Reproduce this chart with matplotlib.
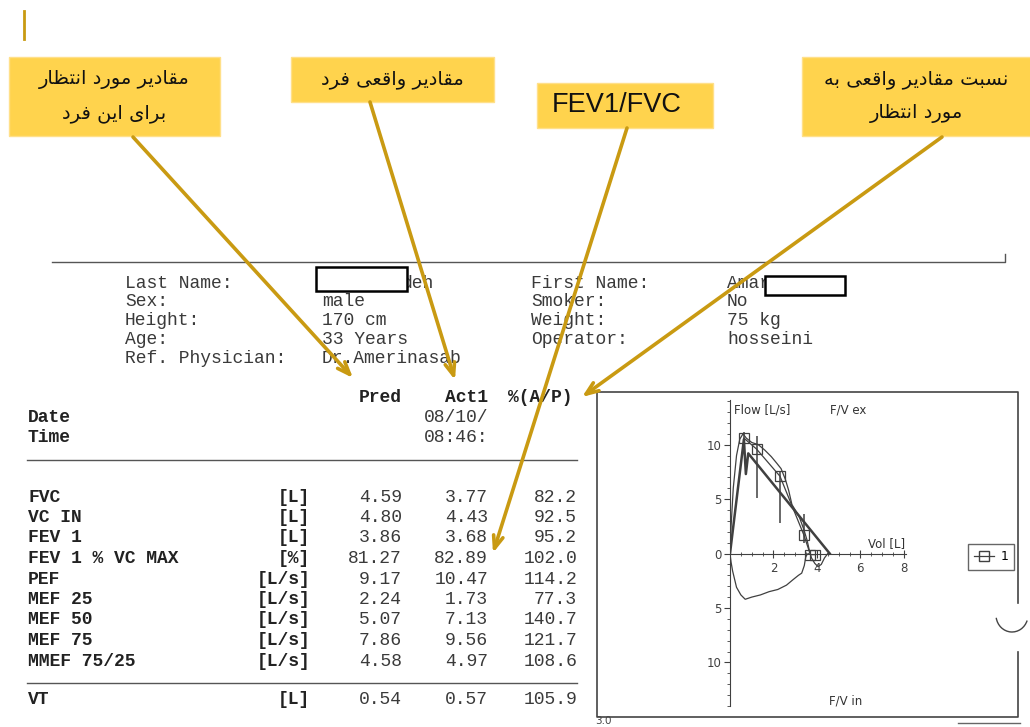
import matplotlib
matplotlib.use('Agg')
import matplotlib.pyplot as plt
from matplotlib.patches import Rectangle, Arc
from matplotlib.lines import Line2D
from matplotlib.ticker import FixedLocator, MultipleLocator, FuncFormatter

# ---- данные ----
params = ['FVC', 'VC IN', 'FEV 1', 'FEV 1 % VC MAX', 'PEF', 'MEF 25', 'MEF 50', 'MEF 75', 'MMEF 75/25']
units = ['[L]', '[L]', '[L]', '[%]', '[L/s]', '[L/s]', '[L/s]', '[L/s]', '[L/s]']
pred = [4.59, 4.80, 3.86, 81.27, 9.17, 2.24, 5.07, 7.86, 4.58]
act = [3.77, 4.43, 3.68, 82.89, 10.47, 1.73, 7.13, 9.56, 4.97]
pct = [82.2, 92.5, 95.2, 102.0, 114.2, 77.3, 140.7, 121.7, 108.6]
vt_row = ['VT', '[L]', 0.54, 0.57, 105.9]

info_left = [('Last Name:', 'deh'), ('Sex:', 'male'), ('Height:', '170 cm'),
             ('Age:', '33 Years'), ('Ref. Physician:', 'Dr.Amerinasab')]
info_right = [('First Name:', 'Amar'), ('Smoker:', 'No'), ('Weight:', '75 kg'),
              ('Operator:', 'hosseini')]

# кривая поток-объём
exp_vol = [0, 0.05, 0.15, 0.3, 0.45, 0.6, 0.75, 1.0, 1.3, 1.6, 1.9, 2.15, 2.35, 2.55,
           2.7, 2.85, 3.0, 3.2, 3.4, 3.55, 3.65, 3.75, 3.9, 4.05, 4.2, 4.35, 4.5]
exp_flow = [0, 2.5, 6.0, 9.0, 10.5, 11.0, 10.6, 10.2, 10.0, 9.5, 8.9, 8.3, 7.8, 6.8,
            5.8, 4.5, 4.0, 3.3, 2.2, 1.2, 0.3, -0.4, -0.9, -1.2, -1.0, -0.4, 0]
insp_vol = [0, 0.05, 0.12, 0.3, 0.5, 0.7, 1.0, 1.4, 1.8, 2.2, 2.6, 2.9, 3.15, 3.3,
            3.42, 3.47, 3.5, 3.6]
insp_flow = [0, -0.8, -1.6, -3.1, -3.8, -4.2, -4.0, -3.8, -3.5, -3.3, -2.9, -2.4,
             -2.0, -1.8, -1.1, -0.5, -0.2, 0]
pred_vol = [0, 0.64, 0.73, 0.84, 4.59]
pred_flow = [0, 10.5, 7.3, 9.2, 0]
mk_vol = [0.64, 1.22, 2.3, 3.4, 3.7, 3.9]
mk_flow = [10.6, 9.6, 7.1, 1.7, -0.1, -0.1]
err_lo = [10.0, 5.1, 2.8, 1.0, -0.1, -0.1]
err_hi = [11.2, 10.8, 7.6, 3.6, -0.1, -0.1]

callouts = ['مقادیر مورد انتظار\nبرای این فرد', 'مقادیر واقعی فرد', 'FEV1/FVC',
            'نسبت مقادیر واقعی به\nمورد انتظار']

# ---- простое арабское/персидское соединение букв ----
FORMS = {
    'ا': ('\uFE8D', '\uFE8E', None, None),
    'ب': ('\uFE8F', '\uFE90', '\uFE91', '\uFE92'),
    'ت': ('\uFE95', '\uFE96', '\uFE97', '\uFE98'),
    'د': ('\uFEA9', '\uFEAA', None, None),
    'ر': ('\uFEAD', '\uFEAE', None, None),
    'س': ('\uFEB1', '\uFEB2', '\uFEB3', '\uFEB4'),
    'ظ': ('\uFEC5', '\uFEC6', '\uFEC7', '\uFEC8'),
    'ع': ('\uFEC9', '\uFECA', '\uFECB', '\uFECC'),
    'ف': ('\uFED1', '\uFED2', '\uFED3', '\uFED4'),
    'ق': ('\uFED5', '\uFED6', '\uFED7', '\uFED8'),
    'م': ('\uFEE1', '\uFEE2', '\uFEE3', '\uFEE4'),
    'ن': ('\uFEE5', '\uFEE6', '\uFEE7', '\uFEE8'),
    'ه': ('\uFEE9', '\uFEEA', '\uFEEB', '\uFEEC'),
    'و': ('\uFEED', '\uFEEE', None, None),
    '\u06CC': ('\uFEEF', '\uFEF0', '\uFEF3', '\uFEF4'),
    '\u064A': ('\uFEEF', '\uFEF0', '\uFEF3', '\uFEF4'),
}


def shape_line(text):
    out = []
    for i, ch in enumerate(text):
        f = FORMS.get(ch)
        if f is None:
            out.append(ch)
            continue
        prev = text[i - 1] if i > 0 else ''
        nxt = text[i + 1] if i + 1 < len(text) else ''
        pj = prev in FORMS and FORMS[prev][2] is not None
        nj = f[2] is not None and nxt in FORMS
        if pj and nj:
            out.append(f[3])
        elif pj:
            out.append(f[1])
        elif nj:
            out.append(f[2])
        else:
            out.append(f[0])
    return ''.join(reversed(out))


def shape(text):
    return '\n'.join(shape_line(s) for s in text.split('\n'))


# ---- фигура ----
fig = plt.figure(figsize=(10.3, 7.27), dpi=100)
fig.patch.set_facecolor('white')
page = fig.add_axes([0, 0, 1, 1])
page.set_xlim(0, 1030)
page.set_ylim(727, 0)
page.axis('off')

gold = '#C99A12'
yellow = '#FFD34D'
ink = '#3a3a3a'
mono = 'Liberation Mono'

# жёлтая черта слева вверху
page.plot([24, 24], [11, 39], color=gold, lw=2)

# выноски
boxes = [(9, 57, 211, 79), (291, 57, 203, 45), (537, 83, 176, 45), (802, 57, 240, 79)]
tips = [(353, 378), (455, 380), (493, 553), (582, 397)]
starts = [(133, 137), (370, 102), (627, 128), (942, 137)]
for (x, y, w, h), txt, tip, st in zip(boxes, callouts, tips, starts):
    page.add_patch(Rectangle((x, y), w, h, facecolor=yellow, edgecolor='#FFE08A', lw=1, zorder=3))
    if txt.isascii():
        page.text(x + w / 2 - 8, y + h / 2, txt, ha='center', va='center', fontsize=19.5,
                  family='Liberation Sans', color='#111', zorder=4)
    else:
        cx = x + min(w, 228) / 2
        page.text(cx, y + h / 2, shape(txt), ha='center', va='center', fontsize=14,
                  family='DejaVu Sans', color='#111', linespacing=1.9, zorder=4)
    page.annotate('', xy=tip, xytext=st,
                  arrowprops=dict(arrowstyle='->,head_length=0.9,head_width=0.35',
                                  color=gold, lw=2.6, shrinkA=0, shrinkB=0), zorder=5)

# шапка отчёта
page.plot([52, 1005, 1005], [262, 262, 254], color='#555', lw=1)
row_h = 18.8
for i, (lab, val) in enumerate(info_left):
    y = 283 + i * row_h
    page.text(125, y, lab, family=mono, fontsize=13, color=ink, va='center')
    page.text(402 if i == 0 else 322, y, val, family=mono, fontsize=13, color=ink, va='center')
for i, (lab, val) in enumerate(info_right):
    y = 283 + i * row_h
    page.text(531, y, lab, family=mono, fontsize=13, color=ink, va='center')
    page.text(727, y, val, family=mono, fontsize=13, color=ink, va='center')
page.add_patch(Rectangle((316, 267), 91, 24, facecolor='white', edgecolor='black', lw=1.8, zorder=3))
page.add_patch(Rectangle((765, 276), 80, 19, facecolor='white', edgecolor='black', lw=1.8, zorder=3))

# заголовок таблицы
col_unit, col_pred, col_act, col_pct = 310, 402, 488, 577
for txt, xr in [('Pred', col_pred), ('Act1', col_act), ('%(A/P)', col_pct - 4)]:
    page.text(xr, 397, txt, family=mono, fontsize=13, weight='bold', color='#222', ha='right', va='center')
page.text(28, 418, 'Date', family=mono, fontsize=13, weight='bold', color='#222', va='center')
page.text(28, 438, 'Time', family=mono, fontsize=13, weight='bold', color='#222', va='center')
page.text(col_act, 418, '08/10/', family=mono, fontsize=13, color=ink, ha='right', va='center')
page.text(col_act, 438, '08:46:', family=mono, fontsize=13, color=ink, ha='right', va='center')
page.plot([27, 577], [460, 460], color='#555', lw=1)
page.plot([27, 577], [683, 683], color='#555', lw=1)

tab_h = 20.5
for i, (p, u, a, b, c) in enumerate(zip(params, units, pred, act, pct)):
    y = 497 + i * tab_h
    page.text(28, y, p, family=mono, fontsize=13, weight='bold', color='#222', va='center')
    page.text(col_unit, y, u, family=mono, fontsize=13, weight='bold', color='#222', ha='right', va='center')
    page.text(col_pred, y, f'{a:.2f}', family=mono, fontsize=13, color=ink, ha='right', va='center')
    page.text(col_act, y, f'{b:.2f}', family=mono, fontsize=13, color=ink, ha='right', va='center')
    page.text(col_pct, y, f'{c:.1f}', family=mono, fontsize=13, color=ink, ha='right', va='center')
p, u, a, b, c = vt_row
page.text(28, 700, p, family=mono, fontsize=13, weight='bold', color='#222', va='center')
page.text(col_unit, 700, u, family=mono, fontsize=13, weight='bold', color='#222', ha='right', va='center')
page.text(col_pred, 700, f'{a:.2f}', family=mono, fontsize=13, color=ink, ha='right', va='center')
page.text(col_act, 700, f'{b:.2f}', family=mono, fontsize=13, color=ink, ha='right', va='center')
page.text(col_pct, 700, f'{c:.1f}', family=mono, fontsize=13, color=ink, ha='right', va='center')

# рамка графика
page.plot([1018, 1018, 597, 597, 1018, 1018], [603, 392, 392, 717, 717, 652], color='#444', lw=1.2)
page.add_patch(Arc((1012, 615), 32, 34, theta1=20, theta2=170, color='#444', lw=1))
page.text(595, 726, '3.0', family='DejaVu Sans', fontsize=7.5, color='#444', va='bottom')
page.plot([958, 1020], [723, 723], color='#666', lw=1)

# ---- график поток-объём ----
W, H = 1030, 727
ax = fig.add_axes([730 / W, (H - 706) / H, 176 / W, 306 / H])
ax.patch.set_alpha(0)
ax.set_xlim(0, 8.1)
ax.set_ylim(-14, 14.1)
lc = '#404040'
ax.plot(exp_vol, exp_flow, color=lc, lw=0.9)
ax.plot(insp_vol, insp_flow, color=lc, lw=0.9)
ax.plot(pred_vol, pred_flow, color=lc, lw=1.8)
ax.vlines(mk_vol, err_lo, err_hi, color=lc, lw=1.1)
ax.plot(mk_vol, mk_flow, color=lc, lw=0.9, marker='s', markersize=7.5,
        markerfacecolor='none', markeredgecolor=lc, markeredgewidth=0.9)

for s in ['top', 'right']:
    ax.spines[s].set_visible(False)
ax.spines['bottom'].set_position(('data', 0))
ax.spines['left'].set_color(lc)
ax.spines['bottom'].set_color(lc)
ax.xaxis.set_major_locator(FixedLocator([2, 4, 6, 8]))
ax.xaxis.set_minor_locator(MultipleLocator(0.5))
ax.yaxis.set_major_locator(FixedLocator([-10, -5, 0, 5, 10]))
ax.yaxis.set_minor_locator(MultipleLocator(1))
ax.yaxis.set_major_formatter(FuncFormatter(lambda v, _: f'{abs(v):.0f}'))
ax.tick_params(axis='x', which='major', direction='inout', length=6, labelsize=8.5,
               colors=lc, pad=3)
ax.tick_params(axis='x', which='minor', direction='inout', length=3, colors=lc)
ax.tick_params(axis='y', which='major', direction='out', length=4, labelsize=8.5,
               colors=lc, pad=2)
ax.tick_params(axis='y', which='minor', direction='out', length=2, colors=lc)
ax.text(0.18, 13.2, 'Flow [L/s]', fontsize=8.5, color='#333', va='center')
ax.text(4.6, 13.2, 'F/V ex', fontsize=8.5, color='#333', va='center')
ax.text(8.05, 0.95, 'Vol [L]', fontsize=8.5, color='#333', ha='right', va='center')
ax.text(4.55, -13.5, 'F/V in', fontsize=8.5, color='#333', va='center')

handle = Line2D([], [], color=lc, lw=0.9, marker='s', markersize=7,
                markerfacecolor='none', markeredgecolor=lc)
leg = ax.legend([handle], ['1'], loc='center', bbox_to_anchor=(991 / W, 1 - 557 / H),
                bbox_transform=fig.transFigure, fontsize=9, fancybox=False,
                edgecolor=lc, handlelength=1.6, borderpad=0.5, handletextpad=0.5)
leg.get_frame().set_linewidth(1)

fig.savefig('out.png', dpi=100, facecolor='white')
